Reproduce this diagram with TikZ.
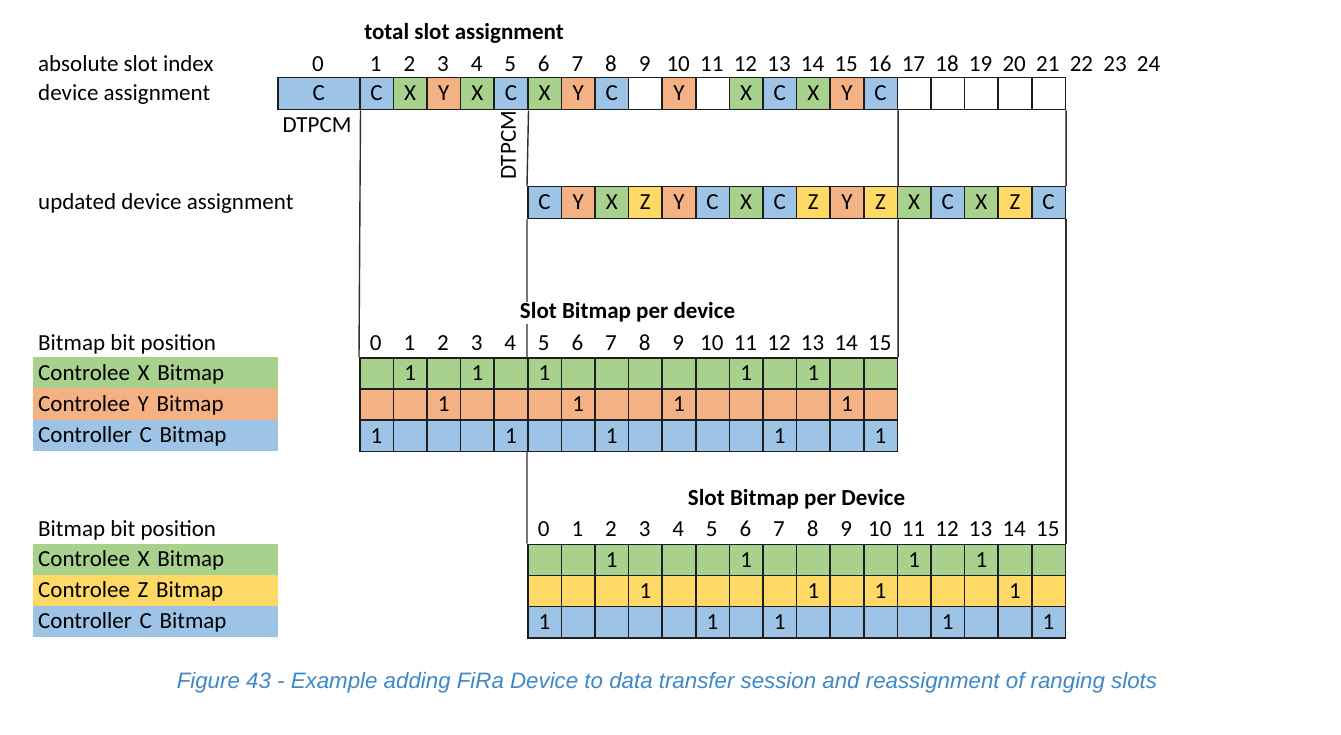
\documentclass[tikz,border=0pt]{standalone}
\usepackage{fontspec}
\setmainfont{Carlito}
\newfontfamily\capf{Liberation Sans}
\definecolor{cblue}{HTML}{9DC3E6}
\definecolor{cgreen}{HTML}{A9D18E}
\definecolor{corange}{HTML}{F4B183}
\definecolor{cyellow}{HTML}{FFD966}
\definecolor{cellline}{HTML}{1E1E1E}
\definecolor{connline}{HTML}{2E2E2E}
\definecolor{capblue}{HTML}{3E88C7}
\newcommand\myfs{\fontsize{23}{27}\selectfont}
\newcommand\myfsb{\fontsize{23}{27}\selectfont\bfseries}
\tikzset{
  cell/.style={draw=cellline, line width=1.5pt, minimum width=33.6pt, minimum height=31.2pt,
    inner sep=0pt, anchor=north west, font=\myfs, text height=14.5pt, text depth=0pt},
  tallcell/.style={cell, minimum height=32pt},
  lbl/.style={anchor=base, inner sep=0pt, font=\myfs},
  lblw/.style={anchor=base west, inner sep=0pt, font=\myfs},
  ttl/.style={anchor=base, inner sep=1pt, font=\myfsb, fill=white},
  legend/.style={anchor=north west, minimum width=245pt, minimum height=31.2pt, inner sep=0pt,
    inner xsep=5pt, text width=235pt, align=left, font=\myfs, text height=14.5pt, text depth=0pt},
  conn/.style={draw=connline, line width=1.4pt},
}
\begin{document}
\begin{tikzpicture}[x=1pt,y=-1pt]
\useasboundingbox[fill=white] (0,0) rectangle (1341,735);

% ---- top: total slot assignment
\node[lblw] (absl) at (38,71.5) {absolute slot index};
\node[lblw] (devl) at (38,100.5) {device assignment};
\node[lblw] (updl) at (38,209.5) {updated device assignment};

\node[tallcell, fill=cblue, minimum width=82pt] (s0) at (277,77) {C};
\foreach \k/\l/\f in {1/C/cblue,2/X/cgreen,3/Y/corange,4/X/cgreen,5/C/cblue,6/X/cgreen,
  7/Y/corange,8/C/cblue,9/{}/white,10/Y/corange,11/{}/white,12/X/cgreen,13/C/cblue,
  14/X/cgreen,15/Y/corange,16/C/cblue,17/{}/white,18/{}/white,19/{}/white,20/{}/white,21/{}/white}
  \node[tallcell, fill=\f] (s\k) at ({359+(\k-1)*33.6},77) {\l};

\node[lbl] (i0) at (318,71.5) {0};
\foreach \k in {1,...,24}
  \node[lbl] (i\k) at ({359+(\k-0.5)*33.6},71.5) {\k};

\node[lbl] (dt1) at (317,133) {DTPCM};
\node[inner sep=0pt, font=\myfs, text height=14.5pt, text depth=0pt, rotate=90] (dt2) at (508.5,145.5) {DTPCM};

% updated row
\foreach \j/\l/\f in {0/C/cblue,1/Y/corange,2/X/cgreen,3/Z/cyellow,4/Y/corange,5/C/cblue,
  6/X/cgreen,7/C/cblue,8/Z/cyellow,9/Y/corange,10/Z/cyellow,11/X/cgreen,12/C/cblue,
  13/X/cgreen,14/Z/cyellow,15/C/cblue}
  \node[tallcell, fill=\f] (u\j) at ({527+\j*33.6},186) {\l};

% ---- table 1
\node[lblw] (bp1) at (38,350) {Bitmap bit position};
\node[legend, fill=cgreen] (la) at (33,357) {Controlee X Bitmap};
\node[legend, fill=corange] (lb) at (33,388.2) {Controlee Y Bitmap};
\node[legend, fill=cblue] (lc) at (33,419.4) {Controller C Bitmap};
\foreach \j in {0,...,15}
  \node[lbl] (h\j) at ({359+(\j+0.5)*33.6},350) {\j};
\foreach \j/\v in {0/{},1/1,2/{},3/1,4/{},5/1,6/{},7/{},8/{},9/{},10/{},11/1,12/{},13/1,14/{},15/{}}
  \node[cell, fill=cgreen] (a\j) at ({359+\j*33.6},357) {\v};
\foreach \j/\v in {0/{},1/{},2/1,3/{},4/{},5/{},6/1,7/{},8/{},9/1,10/{},11/{},12/{},13/{},14/1,15/{}}
  \node[cell, fill=corange] (b\j) at ({359+\j*33.6},388.2) {\v};
\foreach \j/\v in {0/1,1/{},2/{},3/{},4/1,5/{},6/{},7/1,8/{},9/{},10/{},11/{},12/1,13/{},14/{},15/1}
  \node[cell, fill=cblue] (c\j) at ({359+\j*33.6},419.4) {\v};

% ---- table 2
\node[lblw] (bp2) at (38,536) {Bitmap bit position};
\node[legend, fill=cgreen] (ld) at (33,543.5) {Controlee X Bitmap};
\node[legend, fill=cyellow] (le) at (33,574.7) {Controlee Z Bitmap};
\node[legend, fill=cblue] (lf) at (33,605.9) {Controller C Bitmap};
\foreach \j in {0,...,15}
  \node[lbl] (g\j) at ({527+(\j+0.5)*33.6},536) {\j};
\foreach \j/\v in {0/{},1/{},2/1,3/{},4/{},5/{},6/1,7/{},8/{},9/{},10/{},11/1,12/{},13/1,14/{},15/{}}
  \node[cell, fill=cgreen] (d\j) at ({527+\j*33.6},543.5) {\v};
\foreach \j/\v in {0/{},1/{},2/{},3/1,4/{},5/{},6/{},7/{},8/1,9/{},10/1,11/{},12/{},13/{},14/1,15/{}}
  \node[cell, fill=cyellow] (e\j) at ({527+\j*33.6},574.7) {\v};
\foreach \j/\v in {0/1,1/{},2/{},3/{},4/{},5/1,6/{},7/1,8/{},9/{},10/{},11/{},12/1,13/{},14/{},15/1}
  \node[cell, fill=cblue] (f\j) at ({527+\j*33.6},605.9) {\v};

% ---- connectors
\draw[conn] (s0.south east) -- (a0.north west);
\draw[conn] (s5.south east) -- (u0.north west);
\draw[conn] (u0.south west) -- (a5.north west);
\draw[conn] (c5.south west) -- (d0.north west);
\draw[conn] (s16.south east) -- (u10.north east);
\draw[conn] (u10.south east) -- (a15.north east);
\draw[conn] (s21.south east) -- (u15.north east);
\draw[conn] (u15.south east) -- (d15.north east);

% ---- titles
\node[ttl] (t1) at (464,40) {total slot assignment};
\node[ttl] (t2) at (627.5,319) {Slot Bitmap per device};
\node[ttl] (t3) at (796.5,505) {Slot Bitmap per Device};

% ---- caption
\node[anchor=base, inner sep=0pt, font=\capf\itshape\fontsize{22.3}{26}\selectfont, text=capblue] (cap) at (667,688)
  {Figure 43 - Example adding FiRa Device to data transfer session and reassignment of ranging slots};
\end{tikzpicture}
\end{document}
